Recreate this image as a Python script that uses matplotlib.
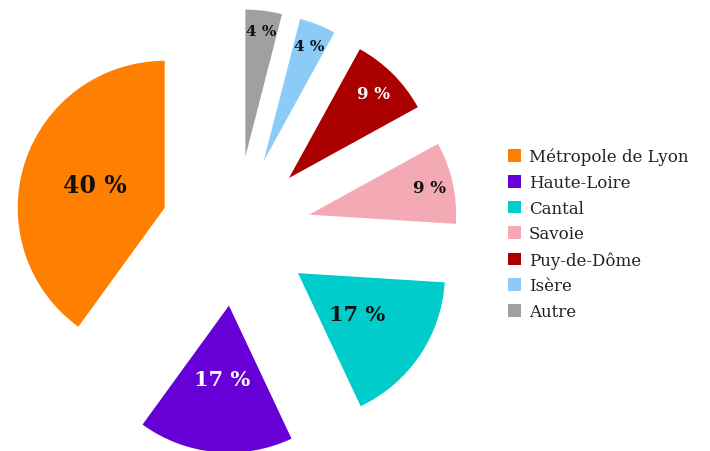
import numpy as np
import matplotlib
matplotlib.use('Agg')
import matplotlib.pyplot as plt

# data (counterclockwise from 12 o'clock)
regions = ['Métropole de Lyon', 'Haute-Loire', 'Cantal', 'Savoie', 'Puy-de-Dôme', 'Isère', 'Autre']
shares = [40, 17, 17, 9, 9, 4, 4]

colors = ['#ff8000', '#6600d6', '#00cccc', '#f4aab4', '#aa0000', '#8ccaf8', '#a0a0a0']
txt_colors = ['#111111', 'white', '#111111', '#111111', 'white', '#111111', '#111111']
txt_sizes = [17, 15, 15, 12, 12, 11, 11]
txt_dist = [0.50, 0.50, 0.49, 0.84, 0.81, 0.84, 0.86]

W, H, DPI = 710, 452, 100
cx, cy, rpx = 236, 232, 147   # pie centre / radius in pixels

fig = plt.figure(figsize=(W / DPI, H / DPI), dpi=DPI)
ax = fig.add_axes([0, 0, 1, 1])

wedges, _ = ax.pie(
    shares, colors=colors, startangle=90, counterclock=True,
    explode=[0.51] * len(shares), radius=1.0,
    wedgeprops=dict(linewidth=0),
)

# percentage labels, placed inside each exploded wedge
for i, w in enumerate(wedges):
    th = np.deg2rad((w.theta1 + w.theta2) / 2)
    x0, y0 = w.center
    d = txt_dist[i] * w.r
    ax.text(x0 + d * np.cos(th), y0 + d * np.sin(th), f'{shares[i]} %',
            ha='center', va='center', fontsize=txt_sizes[i], fontweight='bold',
            color=txt_colors[i], family='DejaVu Serif')

ax.set_xlim(-cx / rpx, (W - cx) / rpx)
ax.set_ylim(-(H - cy) / rpx, cy / rpx)
ax.set_aspect('auto')
ax.axis('off')

leg = fig.legend(wedges, regions, loc='center left', bbox_to_anchor=(508 / W, 1 - 235 / H),
                 frameon=False, borderpad=0, borderaxespad=0,
                 handlelength=0.8, handleheight=0.8, handletextpad=0.45,
                 labelspacing=0.52, prop=dict(family='DejaVu Serif', size=12))
for t in leg.get_texts():
    t.set_color('#222222')

fig.savefig('out.png', dpi=DPI)
